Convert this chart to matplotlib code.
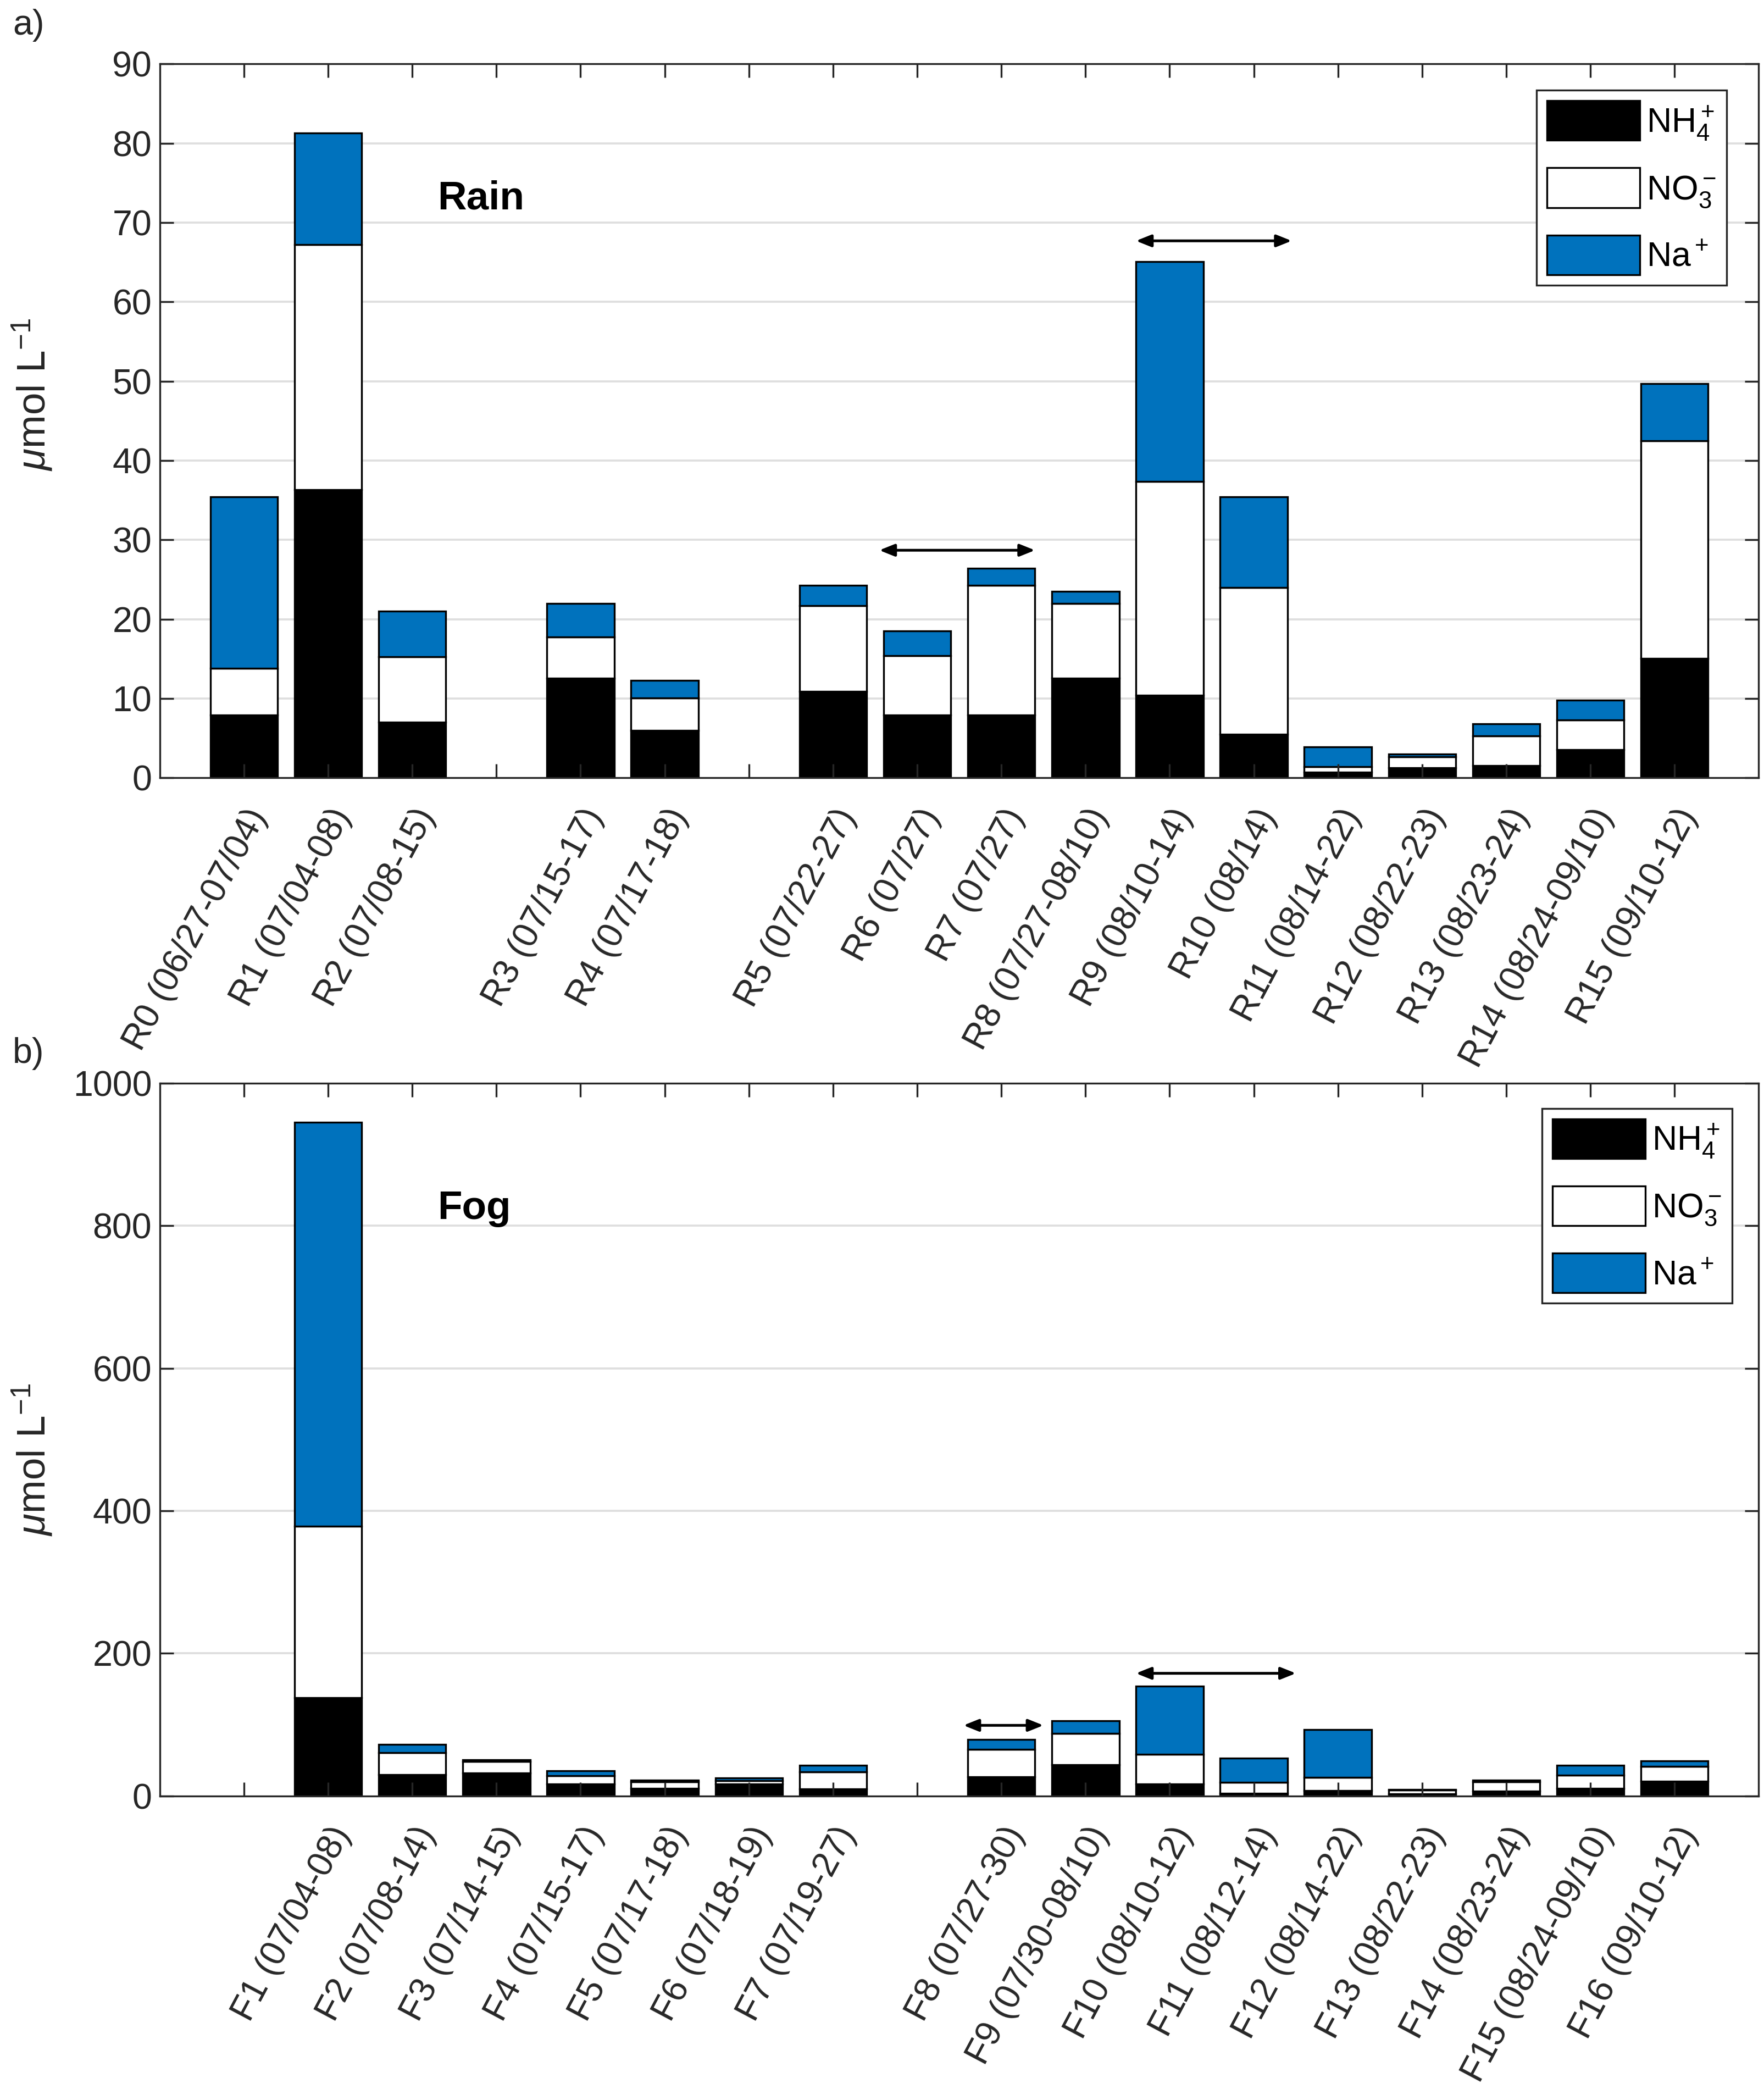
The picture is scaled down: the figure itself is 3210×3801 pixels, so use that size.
import numpy as np
import matplotlib
matplotlib.use('Agg')
import matplotlib.pyplot as plt
from matplotlib.patches import Patch

plt.rcParams['font.family'] = ['Liberation Sans', 'DejaVu Sans']
plt.rcParams['mathtext.fontset'] = 'custom'
plt.rcParams['mathtext.rm'] = 'Liberation Sans'
plt.rcParams['mathtext.it'] = 'Liberation Sans:italic'
plt.rcParams['mathtext.bf'] = 'Liberation Sans:bold'

# rain samples ('' = empty slot on the axis)
rain_labels = ['R0 (06/27-07/04)', 'R1 (07/04-08)', 'R2 (07/08-15)', '',
               'R3 (07/15-17)', 'R4 (07/17-18)', '',
               'R5 (07/22-27)', 'R6 (07/27)', 'R7 (07/27)', 'R8 (07/27-08/10)',
               'R9 (08/10-14)', 'R10 (08/14)', 'R11 (08/14-22)', 'R12 (08/22-23)',
               'R13 (08/23-24)', 'R14 (08/24-09/10)', 'R15 (09/10-12)']
rain_nh4 = [7.9, 36.3, 7.0, np.nan, 12.6, 6.0, np.nan,
            10.9, 7.9, 7.9, 12.6, 10.4, 5.5, 0.7, 1.25, 1.55, 3.6, 15.1]
rain_no3 = [5.9, 30.9, 8.3, np.nan, 5.2, 4.1, np.nan,
            10.8, 7.5, 16.4, 9.4, 27.0, 18.5, 0.75, 1.4, 3.75, 3.7, 27.4]
rain_na = [21.6, 14.1, 5.7, np.nan, 4.2, 2.2, np.nan,
           2.6, 3.1, 2.1, 1.5, 27.7, 11.4, 2.45, 0.35, 1.5, 2.5, 7.2]

# fog samples
fog_labels = ['', 'F1 (07/04-08)', 'F2 (07/08-14)', 'F3 (07/14-15)', 'F4 (07/15-17)',
              'F5 (07/17-18)', 'F6 (07/18-19)', 'F7 (07/19-27)', '',
              'F8 (07/27-30)', 'F9 (07/30-08/10)', 'F10 (08/10-12)', 'F11 (08/12-14)',
              'F12 (08/14-22)', 'F13 (08/22-23)', 'F14 (08/23-24)', 'F15 (08/24-09/10)',
              'F16 (09/10-12)']
fog_nh4 = [np.nan, 138, 30, 32, 17, 10.5, 17, 10, np.nan,
           27, 44, 17, 3.6, 7.5, 2.5, 6.5, 10.4, 20.5]
fog_no3 = [np.nan, 240, 31, 16, 11.5, 9, 4, 24, np.nan,
           38, 43.5, 41, 15.6, 18.2, 5.5, 13, 18.6, 21]
fog_na = [np.nan, 567, 11.5, 3, 7, 2.5, 4, 9, np.nan,
          14, 18, 96, 34, 67, 1.2, 2.5, 14, 7.8]

# double arrows (x start, x end, y)
rain_arrows = [(8.55, 10.4, 28.7), (11.6, 13.45, 67.7)]
fog_arrows = [(9.55, 10.5, 99), (11.6, 13.5, 172)]

c_nh4 = 'black'
c_no3 = 'white'
c_na = '#0072BD'
fs = 15.5
tick_col = '#262626'


def draw_panel(ax, labels, nh4, no3, na, ymax, ystep, arrows, title, title_y,
               panel, panel_y, ylab_y, leg_anchor):
    x = np.arange(1, len(labels) + 1)
    nh4 = np.array(nh4, dtype=float)
    no3 = np.array(no3, dtype=float)
    na = np.array(na, dtype=float)
    kw = dict(width=0.8, edgecolor='black', linewidth=0.8, zorder=2)
    ax.bar(x, nh4, color=c_nh4, **kw)
    ax.bar(x, no3, bottom=nh4, color=c_no3, **kw)
    ax.bar(x, na, bottom=nh4 + no3, color=c_na, **kw)

    ax.set_xlim(0, len(labels) + 1)
    ax.set_ylim(0, ymax)
    yt = np.arange(0, ymax + ystep / 2, ystep)
    ax.set_yticks(yt)
    for y in yt[1:-1]:
        ax.axhline(y, color='#dedede', lw=0.9, zorder=0.5)
    ax.set_xticks(x)
    ax.set_xticklabels(labels, rotation=62, ha='right', va='top',
                       rotation_mode='anchor')
    ax.tick_params(axis='both', direction='in', length=6, width=0.8,
                   colors=tick_col, labelsize=fs, top=True, right=True)
    ax.tick_params(axis='x', pad=11)
    ax.set_axisbelow(False)
    for s in ax.spines.values():
        s.set_linewidth(0.8)
        s.set_color(tick_col)
    ax.set_ylabel(r'$\mu$mol L$^{-1}$', fontsize=17.5, color=tick_col)
    ax.yaxis.set_label_coords(-0.066, ylab_y)

    for x0, x1, y in arrows:
        ax.annotate('', xy=(x1, y), xytext=(x0, y),
                    arrowprops=dict(arrowstyle='<|-|>,head_length=0.55,head_width=0.22',
                                    color='black', lw=1.2, shrinkA=0, shrinkB=0),
                    zorder=4)

    ax.text(3.3, title_y, title, fontsize=17.5, fontweight='bold', va='center')
    handles = [Patch(facecolor=c_nh4, edgecolor='black', lw=0.8, label=r'NH$_4^+$'),
               Patch(facecolor=c_no3, edgecolor='black', lw=0.8, label=r'NO$_3^-$'),
               Patch(facecolor=c_na, edgecolor='black', lw=0.8, label=r'Na$^+$')]
    leg = ax.legend(handles=handles, loc='upper right', bbox_to_anchor=leg_anchor,
                    fontsize=15, handlelength=2.7, handleheight=1.4,
                    handletextpad=0.2, labelspacing=0.75, borderpad=0.3,
                    borderaxespad=0, fancybox=False, framealpha=1,
                    edgecolor=tick_col)
    leg.get_frame().set_linewidth(0.8)
    ax.text(-0.092, panel_y, panel, transform=ax.transAxes, fontsize=fs,
            ha='left', va='top', color=tick_col)


fig = plt.figure(figsize=(10.7, 12.67), dpi=300)
ax1 = fig.add_axes([0.0906, 0.6276, 0.9064, 0.3418])
ax2 = fig.add_axes([0.0906, 0.1403, 0.9064, 0.3412])

draw_panel(ax1, rain_labels, rain_nh4, rain_no3, rain_na, 90, 10,
           rain_arrows, 'Rain', 73, 'a)', 1.077, 0.537, (0.98, 0.963))
draw_panel(ax2, fog_labels, fog_nh4, fog_no3, fog_na, 1000, 200,
           fog_arrows, 'Fog', 824, 'b)', 1.065, 0.472, (0.9833, 0.9645))

fig.savefig('out.png', dpi=300)
